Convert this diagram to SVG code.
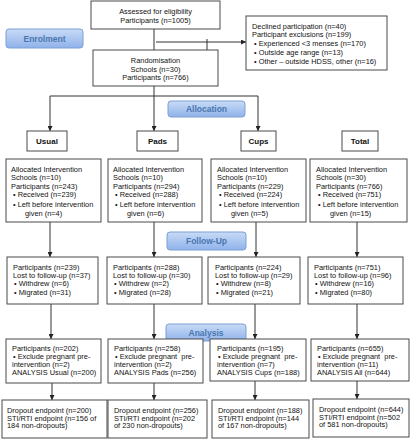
<svg xmlns="http://www.w3.org/2000/svg" width="413" height="440" viewBox="0 0 413 440">
<defs>
<linearGradient id="pg" x1="0" y1="0" x2="0" y2="1">
<stop offset="0" stop-color="#c9dbf6"/>
<stop offset="1" stop-color="#8fb2ea"/>
</linearGradient>
<marker id="ah" viewBox="0 0 6 6" refX="6" refY="3" markerWidth="5" markerHeight="5" orient="auto" markerUnits="userSpaceOnUse">
<path d="M0,0 L6,3 L0,6 Z" fill="#222"/>
</marker>
<style>
rect.b{fill:#fff;stroke:#4a4a4a;stroke-width:1}
rect.p{fill:url(#pg);stroke:#7c9fd4;stroke-width:1}
text{font-family:"Liberation Sans",Arial,sans-serif;font-size:7.4px;fill:#111}
text.c{text-anchor:middle}
text.h{font-weight:bold;font-size:8px;text-anchor:middle}
text.pl{font-weight:bold;font-size:8.5px;fill:#4a76b0;text-anchor:middle}
line.k{stroke:#333;stroke-width:1;fill:none}
line.a{stroke:#333;stroke-width:1;fill:none;marker-end:url(#ah)}
</style>
</defs>
<rect width="413" height="440" fill="#fff"/>

<g id="connectors">
<line class="k" x1="154" y1="29" x2="154" y2="50"/>
<line class="a" x1="156" y1="42" x2="246" y2="42"/>
<line class="k" x1="207" y1="39" x2="207" y2="51"/>
<line class="a" x1="154" y1="86" x2="154" y2="131"/>
<line class="k" x1="50" y1="96" x2="258" y2="96"/>
<line class="a" x1="50" y1="96" x2="50" y2="131"/>
<line class="a" x1="258" y1="96" x2="258" y2="131"/>
<line class="a" x1="50" y1="222" x2="50" y2="257"/>
<line class="a" x1="154" y1="222" x2="154" y2="257"/>
<line class="a" x1="256" y1="222" x2="256" y2="257"/>
<line class="a" x1="357" y1="222" x2="357" y2="257"/>
<line class="a" x1="51" y1="304" x2="51" y2="339"/>
<line class="a" x1="154" y1="304" x2="154" y2="339"/>
<line class="a" x1="255" y1="304" x2="255" y2="339"/>
<line class="a" x1="357" y1="304" x2="357" y2="339"/>
<line class="a" x1="52" y1="383" x2="52" y2="400"/>
<line class="a" x1="154" y1="383" x2="154" y2="400"/>
<line class="a" x1="255" y1="381" x2="255" y2="400"/>
<line class="a" x1="357" y1="381" x2="357" y2="399"/>
</g>

<g id="assessed">
<rect class="b" x="91" y="1" width="129" height="28"/>
<text class="c" x="155.5" y="14.3">Assessed for eligibility</text>
<text class="c" x="155.5" y="22.8">Participants (n=1005)</text>
</g>

<g id="enrolment">
<rect class="p" x="6" y="29" width="77" height="19" rx="3"/>
<text class="pl" x="44.5" y="41.5">Enrolment</text>
</g>

<g id="excluded">
<rect class="b" x="246" y="16" width="141" height="54"/>
<text x="252" y="29.3">Declined participation (n=40)</text>
<text x="252" y="37">Participant exclusions (n=199)</text>
<text x="254" y="46">• Experienced &lt;3 menses (n=170)</text>
<text x="254" y="55">• Outside age range (n=13)</text>
<text x="254" y="63.7">• Other – outside HDSS, other (n=16)</text>
</g>

<g id="randomisation">
<rect class="b" x="93" y="50" width="125" height="36"/>
<text class="c" x="155.5" y="62.6">Randomisation</text>
<text class="c" x="155.5" y="72">Schools (n=30)</text>
<text class="c" x="155.5" y="80.4">Participants (n=766)</text>
</g>

<g id="allocation">
<rect class="p" x="168" y="101" width="77" height="16" rx="3"/>
<text class="pl" x="206.5" y="112">Allocation</text>
</g>

<g id="hdr-usual"><rect class="b" x="27" y="131" width="40" height="20"/><text class="h" x="47" y="143.8">Usual</text></g>
<g id="hdr-pads"><rect class="b" x="137" y="131" width="41" height="20"/><text class="h" x="157.5" y="143.8">Pads</text></g>
<g id="hdr-cups"><rect class="b" x="241" y="131" width="35" height="20"/><text class="h" x="258.5" y="143.8">Cups</text></g>
<g id="hdr-total"><rect class="b" x="342" y="131" width="36" height="20"/><text class="h" x="360" y="143.8">Total</text></g>

<g id="alloc-usual">
<rect class="b" x="6" y="159" width="95" height="63"/>
<text x="11" y="171.7">Allocated Intervention</text>
<text x="11" y="180.2">Schools (n=10)</text>
<text x="11" y="188.7">Participants (n=243)</text>
<text x="13" y="197.2">• Received (n=239)</text>
<text x="13" y="206.7">• Left before intervention</text>
<text x="25" y="215.7">given (n=4)</text>
</g>
<g id="alloc-pads">
<rect class="b" x="108" y="159" width="94" height="63"/>
<text x="113" y="171.7">Allocated Intervention</text>
<text x="113" y="180.2">Schools (n=10)</text>
<text x="113" y="188.7">Participants (n=294)</text>
<text x="115" y="197.2">• Received (n=288)</text>
<text x="115" y="206.7">• Left before intervention</text>
<text x="127" y="215.7">given (n=6)</text>
</g>
<g id="alloc-cups">
<rect class="b" x="211" y="159" width="95" height="63"/>
<text x="217" y="171.7">Allocated Intervention</text>
<text x="217" y="180.2">Schools (n=10)</text>
<text x="217" y="188.7">Participants (n=229)</text>
<text x="219" y="197.2">• Received (n=224)</text>
<text x="219" y="206.7">• Left before intervention</text>
<text x="231" y="215.7">given (n=5)</text>
</g>
<g id="alloc-total">
<rect class="b" x="310" y="159" width="97" height="63"/>
<text x="316" y="171.7">Allocated Intervention</text>
<text x="316" y="180.2">Schools (n=30)</text>
<text x="316" y="188.7">Participants (n=766)</text>
<text x="318" y="197.2">• Received (n=751)</text>
<text x="318" y="206.7">• Left before intervention</text>
<text x="330" y="215.7">given (n=15)</text>
</g>

<g id="followup">
<rect class="p" x="167" y="232" width="79" height="18" rx="3"/>
<text class="pl" x="206.5" y="244">Follow-Up</text>
</g>

<g id="fu-usual">
<rect class="b" x="7" y="257" width="91" height="47"/>
<text x="13" y="269.6">Participants (n=239)</text>
<text x="13" y="277.6">Lost to follow-up (n=37)</text>
<text x="14" y="286.1">• Withdrew (n=6)</text>
<text x="14" y="294.6">• Migrated (n=31)</text>
</g>
<g id="fu-pads">
<rect class="b" x="107" y="257" width="95" height="47"/>
<text x="113" y="269.6">Participants (n=288)</text>
<text x="113" y="277.6">Lost to follow-up (n=30)</text>
<text x="114" y="286.1">• Withdrew (n=2)</text>
<text x="114" y="294.6">• Migrated (n=28)</text>
</g>
<g id="fu-cups">
<rect class="b" x="208" y="257" width="92" height="47"/>
<text x="215" y="269.6">Participants (n=224)</text>
<text x="215" y="277.6">Lost to follow-up (n=29)</text>
<text x="216" y="286.1">• Withdrew (n=8)</text>
<text x="216" y="294.6">• Migrated (n=21)</text>
</g>
<g id="fu-total">
<rect class="b" x="308" y="257" width="95" height="47"/>
<text x="314" y="269.6">Participants (n=751)</text>
<text x="314" y="277.6">Lost to follow-up (n=96)</text>
<text x="315" y="286.1">• Withdrew (n=16)</text>
<text x="315" y="294.6">• Migrated (n=80)</text>
</g>

<g id="analysis">
<rect class="p" x="166" y="324" width="80" height="17" rx="3"/>
<text class="pl" x="206" y="335.5">Analysis</text>
</g>

<g id="an-usual">
<rect class="b" x="6" y="339" width="95" height="44"/>
<text x="12" y="350.6">Participants (n=202)</text>
<text x="13" y="359.1">• Exclude pregnant pre-</text>
<text x="12" y="367.1">intervention (n=2)</text>
<text x="12" y="375.1">ANALYSIS Usual (n=200)</text>
</g>
<g id="an-pads">
<rect class="b" x="108" y="339" width="95" height="44"/>
<text x="114" y="350.6">Participants (n=258)</text>
<text x="115" y="359.1" xml:space="preserve">• Exclude pregnant  pre-</text>
<text x="114" y="367.1">intervention (n=2)</text>
<text x="114" y="375.1">ANALYSIS Pads (n=256)</text>
</g>
<g id="an-cups">
<rect class="b" x="210" y="339" width="96" height="42"/>
<text x="217" y="350.6">Participants (n=195)</text>
<text x="218" y="359.1" xml:space="preserve">• Exclude pregnant  pre-</text>
<text x="217" y="367.1">intervention (n=7)</text>
<text x="217" y="375.1">ANALYSIS Cups (n=188)</text>
</g>
<g id="an-total">
<rect class="b" x="311" y="339" width="98" height="42"/>
<text x="317" y="350.6">Participants (n=655)</text>
<text x="318" y="359.1" xml:space="preserve">• Exclude pregnant  pre-</text>
<text x="317" y="367.1">intervention (n=11)</text>
<text x="317" y="375.1">ANALYSIS All (n=644)</text>
</g>

<g id="ep-usual">
<rect class="b" x="2" y="400" width="105" height="38"/>
<text x="7" y="412.6">Dropout endpoint (n=200)</text>
<text x="7" y="420.6">STI/RTI endpoint (n=156 of</text>
<text x="7" y="428.1">184 non-dropouts)</text>
</g>
<g id="ep-pads">
<rect class="b" x="108" y="400" width="99" height="38"/>
<text x="114" y="412.6">Dropout endpoint (n=256)</text>
<text x="114" y="420.6">STI/RTI endpoint (n=202</text>
<text x="114" y="428.1">of 230 non-dropouts)</text>
</g>
<g id="ep-cups">
<rect class="b" x="212" y="400" width="97" height="38"/>
<text x="218" y="412.6">Dropout endpoint (n=188)</text>
<text x="218" y="420.6">STI/RTI endpoint (n=144</text>
<text x="218" y="428.1">of 167 non-dropouts)</text>
</g>
<g id="ep-total">
<rect class="b" x="313" y="399" width="96" height="38"/>
<text x="319" y="411.6">Dropout endpoint (n=644)</text>
<text x="319" y="419.6">STI/RTI endpoint (n=502</text>
<text x="319" y="427.1">of 581 non-dropouts)</text>
</g>
</svg>
